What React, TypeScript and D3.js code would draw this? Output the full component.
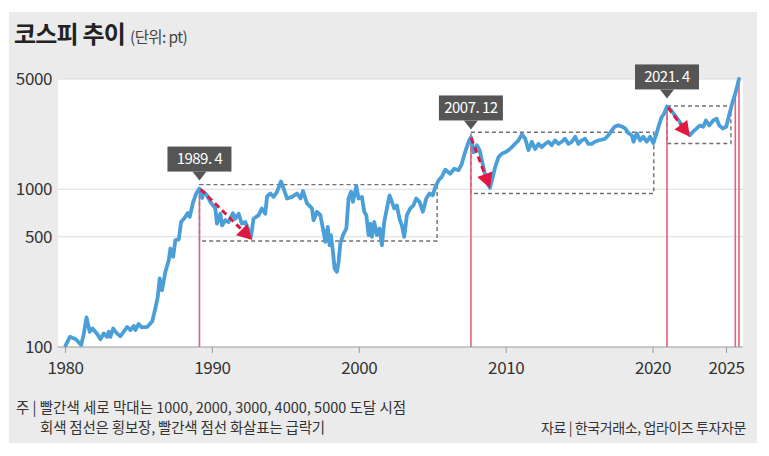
import * as d3 from "d3";

// KOSPI month-ish readings (year fraction, index points)
const lineYears = [
  1980.0, 1980.3, 1980.7, 1981.07, 1981.25, 1981.43, 1981.65, 1981.84, 1982.16, 1982.38, 1982.6, 1982.83, 1982.95,
  1983.06, 1983.24, 1983.5, 1983.74, 1984.2, 1984.42, 1984.65, 1984.76, 1984.98, 1985.2, 1985.56, 1985.9, 1986.12,
  1986.28, 1986.41, 1986.57, 1986.8, 1987.03, 1987.14, 1987.33, 1987.48, 1987.71, 1987.87, 1988.16, 1988.32, 1988.46,
  1988.69, 1988.9, 1989.12, 1989.3, 1989.4, 1989.63, 1989.86, 1990.2, 1990.31, 1990.54, 1990.66, 1990.88, 1991.1,
  1991.4, 1991.56, 1991.79, 1992.0, 1992.24, 1992.47, 1992.63, 1992.8, 1993.15, 1993.37, 1993.6, 1993.72, 1993.95,
  1994.17, 1994.4, 1994.67, 1994.85, 1995.08, 1995.42, 1995.76, 1996.0, 1996.17, 1996.44, 1996.78, 1996.89, 1997.12,
  1997.35, 1997.57, 1997.69, 1997.85, 1997.98, 1998.07, 1998.21, 1998.32, 1998.48, 1998.59, 1998.71, 1998.89, 1999.12,
  1999.27, 1999.44, 1999.57, 1999.8, 1999.95, 2000.18, 2000.34, 2000.48, 2000.63, 2000.75, 2000.86, 2001.02, 2001.2,
  2001.38, 2001.54, 2001.7, 2001.88, 2002.06, 2002.22, 2002.38, 2002.56, 2002.74, 2002.9, 2003.06, 2003.24, 2003.47,
  2003.69, 2003.88, 2004.1, 2004.33, 2004.56, 2004.78, 2005.0, 2005.17, 2005.4, 2005.62, 2005.85, 2006.19, 2006.46,
  2006.76, 2006.98, 2007.2, 2007.44, 2007.6, 2007.78, 2008.0, 2008.19, 2008.4, 2008.68, 2008.9, 2009.25, 2009.48,
  2009.7, 2009.93, 2010.16, 2010.39, 2010.6, 2010.84, 2011.07, 2011.3, 2011.52, 2011.75, 2011.97, 2012.2, 2012.42,
  2012.65, 2012.88, 2013.1, 2013.33, 2013.56, 2013.78, 2014.0, 2014.24, 2014.47, 2014.7, 2014.92, 2015.15, 2015.37,
  2015.6, 2015.83, 2016.05, 2016.28, 2016.5, 2016.73, 2016.96, 2017.19, 2017.4, 2017.64, 2017.87, 2018.1, 2018.32,
  2018.55, 2018.67, 2018.89, 2019.12, 2019.34, 2019.57, 2019.8, 2020.02, 2020.25, 2020.43, 2020.58, 2020.74, 2020.95,
  2021.24, 2021.58, 2021.92, 2022.26, 2022.5, 2022.7, 2022.97, 2023.2, 2023.42, 2023.6, 2023.83, 2024.1, 2024.33,
  2024.5, 2024.75, 2024.98, 2025.2, 2025.38, 2025.6, 2025.85,
];
const lineValues = [
  102, 116, 112, 103, 122, 154, 125, 131, 121, 112, 122, 116, 125,
  116, 131, 122, 117, 134, 128, 136, 128, 140, 133, 134, 145, 176,
  208, 272, 229, 300, 355, 421, 373, 476, 480, 620, 668, 706, 668,
  830, 940, 1010, 880, 963, 915, 832, 756, 606, 700, 590, 636, 620,
  706, 650, 700, 606, 620, 550, 500, 650, 685, 756, 700, 900, 940,
  895, 963, 1120, 1010, 874, 895, 940, 874, 975, 814, 756, 636, 720,
  685, 536, 464, 577, 442, 512, 400, 314, 300, 346, 453, 512, 564,
  874, 963, 832, 1050, 874, 895, 720, 685, 512, 606, 500, 620, 512,
  564, 442, 620, 756, 915, 832, 756, 790, 650, 590, 500, 685, 756,
  790, 874, 832, 720, 874, 940, 915, 1030, 1140, 1200, 1330, 1255, 1350,
  1320, 1450, 1715, 2000, 2130, 1715, 1900, 1770, 1450, 1110, 1020, 1380, 1600,
  1680, 1715, 1770, 1850, 1940, 2040, 2230, 2090, 1770, 2000, 1800, 1940, 1850,
  1940, 2000, 1900, 2040, 1940, 2000, 2090, 1940, 2000, 2150, 1940, 2040, 2090,
  1940, 1940, 2000, 2040, 2060, 2090, 2200, 2360, 2500, 2540, 2500, 2430, 2270,
  2200, 2000, 2260, 2040, 2150, 2000, 2150, 1960, 2280, 2600, 2860, 3000, 3350,
  3160, 2860, 2600, 2360, 2200, 2310, 2430, 2540, 2490, 2730, 2540, 2730, 2800,
  2540, 2430, 2490, 3000, 3480, 4040, 5000,
];

const yTicks = [100, 500, 1000, 5000];
const gridValues = [500, 1000, 5000];
const xTicks = [1980, 1990, 2000, 2010, 2020, 2025];

// 1000 ~ 5000 milestone bars
const barYears = [1989.12, 2007.6, 2020.95, 2025.6, 2025.85];
const barTops = [1010, 2130, 3350, 4040, 5000];

// sideways ranges (gray dashed boxes)
const boxStart = [1989.12, 2007.6, 2020.95];
const boxEnd = [2005.3, 2020.05, 2025.3];
const boxLow = [470, 940, 1950];
const boxHigh = [1070, 2300, 3370];

// crash arrows
const arrowFromYear = [1989.2, 2007.62, 2021.02];
const arrowFromValue = [1000, 2120, 3300];
const arrowToYear = [1992.72, 2008.9, 2022.5];
const arrowToValue = [476, 1015, 2150];

const peakLabels = ["1989. 4", "2007. 12", "2021. 4"];
const peakLabelYears = [1989.12, 2007.6, 2020.95];
const peakLabelValues = [1010, 2130, 3350];

const W = 769;
const H = 456;
const plot = { left: 58, right: 743, top: 79, bottom: 347 };
const font = "'Noto Sans CJK KR', 'Noto Sans', sans-serif";

export default function App() {
  const x = d3.scaleLinear().domain([1980, 2025]).range([65.5, 726.5]);
  const y = d3.scaleLog().domain([100, 5000]).range([plot.bottom, plot.top]);

  const pts = lineYears.map((yr, i) => [yr, lineValues[i]] as [number, number]);
  const line = d3
    .line<[number, number]>()
    .x(d => x(d[0]))
    .y(d => y(d[1]));

  const arrows = arrowFromYear.map((_, i) => {
    const x1 = x(arrowFromYear[i]);
    const y1 = y(arrowFromValue[i]);
    const x2 = x(arrowToYear[i]);
    const y2 = y(arrowToValue[i]);
    const ang = Math.atan2(y2 - y1, x2 - x1);
    const len = 15;
    const half = 8;
    const bx = x2 - len * Math.cos(ang);
    const by = y2 - len * Math.sin(ang);
    const px = -Math.sin(ang) * half;
    const py = Math.cos(ang) * half;
    const head = `M${x2},${y2}L${bx + px},${by + py}L${bx - px},${by - py}Z`;
    return { x1, y1, bx, by, head };
  });

  return (
    <svg
      width={W}
      height={H}
      style={{ position: "absolute", left: 0, top: 0, background: "#fff" }}
      fontFamily={font}
    >
      <rect x={9} y={12} width={748} height={431} fill="#ebebeb" />
      <text x={14} y={43} fontSize={24} fontWeight={700} fill="#222" letterSpacing={-0.8}>
        코스피 추이
        <tspan fontSize={15.5} fontWeight={400} fill="#444" dx={5} letterSpacing={-0.6}>
          (단위: pt)
        </tspan>
      </text>

      <rect x={plot.left} y={plot.top} width={plot.right - plot.left} height={plot.bottom - plot.top} fill="#fff" />

      {gridValues.map(v => (
        <line key={v} x1={plot.left} x2={plot.right} y1={y(v)} y2={y(v)} stroke="#dcdcdc" strokeWidth={1} />
      ))}

      {yTicks.map(v => (
        <text
          key={v}
          x={52}
          y={y(v)}
          dy="0.35em"
          textAnchor="end"
          fontSize={17}
          fill="#333"
          letterSpacing={-0.4}
        >
          {v}
        </text>
      ))}

      {boxStart.map((s, i) => (
        <rect
          key={i}
          x={x(s)}
          y={y(boxHigh[i])}
          width={x(boxEnd[i]) - x(s)}
          height={y(boxLow[i]) - y(boxHigh[i])}
          fill="none"
          stroke="#707070"
          strokeWidth={1.4}
          strokeDasharray="4 3"
        />
      ))}

      {barYears.map((yr, i) => (
        <line
          key={i}
          x1={x(yr)}
          x2={x(yr)}
          y1={y(barTops[i])}
          y2={plot.bottom}
          stroke="#e2607a"
          strokeWidth={1.6}
        />
      ))}

      <path
        d={line(pts) ?? ""}
        fill="none"
        stroke="#4b9fd9"
        strokeWidth={3.8}
        strokeLinejoin="round"
        strokeLinecap="round"
      />

      {arrows.map((a, i) => (
        <g key={i}>
          <line x1={a.x1} y1={a.y1} x2={a.bx} y2={a.by} stroke="#e2173f" strokeWidth={3} strokeDasharray="6 4" />
          <path d={a.head} fill="#e2173f" />
        </g>
      ))}

      {peakLabels.map((t, i) => {
        const cx = x(peakLabelYears[i]);
        const tip = y(peakLabelValues[i]) - 8;
        const bw = 64;
        const bh = 25;
        const top = tip - 9 - bh;
        return (
          <g key={t}>
            <rect x={cx - bw / 2} y={top} width={bw} height={bh} fill="#555" />
            <path d={`M${cx - 7},${top + bh}L${cx + 7},${top + bh}L${cx},${tip}Z`} fill="#555" />
            <text x={cx} y={top + bh / 2} dy="0.35em" textAnchor="middle" fontSize={15} fill="#fff" letterSpacing={-0.5}>
              {t}
            </text>
          </g>
        );
      })}

      <line x1={plot.left} x2={plot.right} y1={plot.bottom} y2={plot.bottom} stroke="#999" strokeWidth={1} />
      {xTicks.map(t => (
        <g key={t}>
          <line x1={x(t)} x2={x(t)} y1={plot.bottom} y2={plot.bottom + 6} stroke="#999" strokeWidth={1} />
          <text x={x(t)} y={368} dy="0.35em" textAnchor="middle" fontSize={17} fill="#333" letterSpacing={-0.4}>
            {t}
          </text>
        </g>
      ))}

      <text x={16} y={413} fontSize={14.5} fill="#333" letterSpacing={0}>
        주 | 빨간색 세로 막대는 1000, 2000, 3000, 4000, 5000 도달 시점
      </text>
      <text x={40} y={433} fontSize={14.5} fill="#333" letterSpacing={-0.2}>
        회색 점선은 횡보장, 빨간색 점선 화살표는 급락기
      </text>
      <text x={746} y={433} textAnchor="end" fontSize={14} fill="#333" letterSpacing={-0.4}>
        자료 | 한국거래소, 업라이즈 투자자문
      </text>
    </svg>
  );
}
